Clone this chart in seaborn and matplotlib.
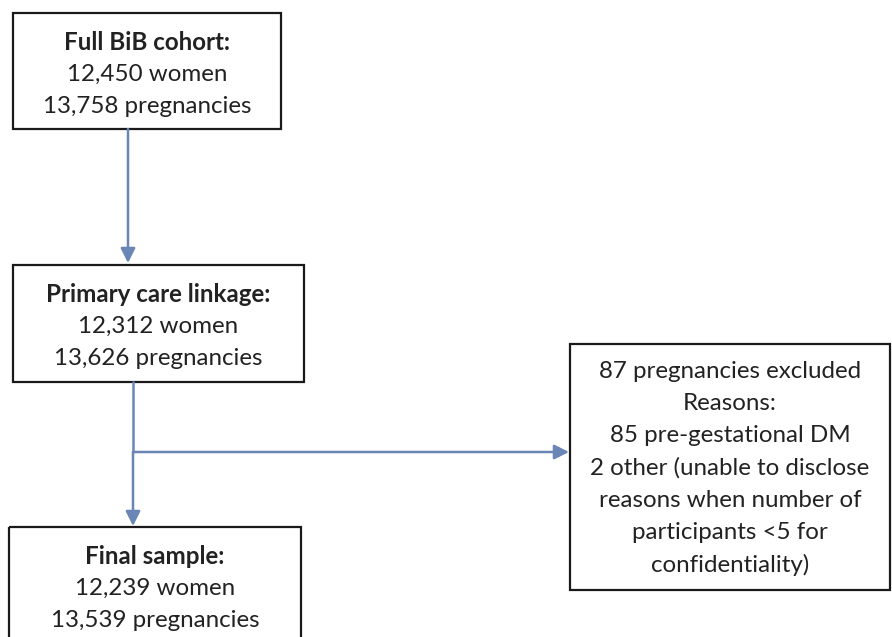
import matplotlib.pyplot as plt
import seaborn as sns
from matplotlib.patches import Rectangle, FancyArrowPatch

# Box contents (title line, then body lines)
box_titles = ["Full BiB cohort:", "Primary care linkage:", "Final sample:", ""]
box_lines = [
    ["12,450 women", "13,758 pregnancies"],
    ["12,312 women", "13,626 pregnancies"],
    ["12,239 women", "13,539 pregnancies"],
    ["87 pregnancies excluded", "Reasons:", "85 pre-gestational DM",
     "2 other (unable to disclose", "reasons when number of",
     "participants <5 for", "confidentiality)"],
]

# box frames in pixel coords: x0, y0, x1, y1
boxes = [(13, 13, 281, 129), (13, 265, 304, 382), (9, 527, 301, 660), (570, 344, 890, 590)]
first_line_y = [42, 294, 556, 371]
line_step = 32.3

arrow_color = "#6a86b6"


def main():
    sns.set_theme(style="white")
    plt.rcParams['font.family'] = ['Lato', 'DejaVu Sans']

    fig = plt.figure(figsize=(8.92, 6.37), dpi=100)
    ax = fig.add_axes([0, 0, 1, 1])
    ax.set_xlim(0, 892)
    ax.set_ylim(637, 0)
    ax.axis('off')

    for i, (x0, y0, x1, y1) in enumerate(boxes):
        ax.add_patch(Rectangle((x0, y0), x1 - x0, y1 - y0, fill=False,
                               edgecolor="#1a1a1a", linewidth=1.6))
        cx = (x0 + x1) / 2
        lines = ([box_titles[i]] if box_titles[i] else []) + box_lines[i]
        for j, txt in enumerate(lines):
            bold = bool(box_titles[i]) and j == 0
            ax.text(cx, first_line_y[i] + j * line_step, txt, ha='center', va='center',
                    fontsize=17.4, color="#222222",
                    fontweight='bold' if bold else 'normal')

    # connectors
    def arrow(p0, p1):
        ax.add_patch(FancyArrowPatch(p0, p1, arrowstyle='-|>', mutation_scale=22,
                                     color=arrow_color, linewidth=1.8,
                                     shrinkA=0, shrinkB=0))

    arrow((128, 129), (128, 263))
    ax.plot([133, 133], [382, 452], color=arrow_color, linewidth=1.8)
    arrow((133, 452), (133, 526))
    arrow((133, 452), (569, 452))

    fig.savefig('out.png', dpi=100)
    plt.close(fig)


if __name__ == '__main__':
    main()
